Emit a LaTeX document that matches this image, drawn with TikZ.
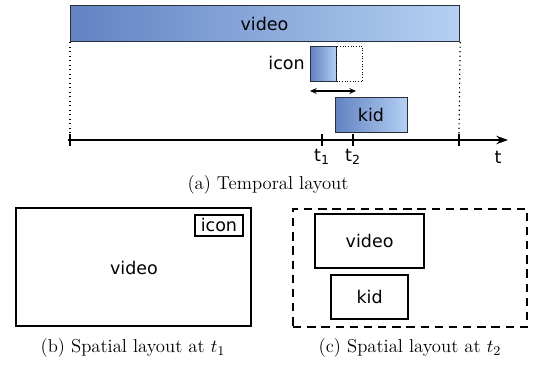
\documentclass[tikz,border=0pt]{standalone}
\usepackage{fontspec}
\newfontfamily\dv{DejaVu Sans}
\usetikzlibrary{arrows.meta}
\definecolor{gl}{RGB}{98,130,194}
\definecolor{gr}{RGB}{180,208,242}
\definecolor{bd}{RGB}{40,48,60}
\tikzset{
  bar/.style={draw=bd, line width=0.7pt, left color=gl, right color=gr, inner sep=0pt},
  lbl/.style={font=\dv\fontsize{10.5}{12}\selectfont, inner sep=0pt},
  captext/.style={font=\fontsize{11.2}{13}\selectfont, inner sep=0pt},
  thickbox/.style={draw, line width=1.3pt, inner sep=0pt},
  tickmark/.style={line width=0.8pt},
}
\begin{document}
\begin{tikzpicture}[x=0.6pt,y=-0.6pt]
\useasboundingbox (0,0) rectangle (536,366);
% temporal layout
\node[bar, minimum width=389*0.6pt, minimum height=36*0.6pt, anchor=north west] (video) at (70,5) {};
\node[lbl] (videotxt) at (264.5,24) {video};
\node[bar, minimum width=26*0.6pt, minimum height=35*0.6pt, anchor=north west] (icon) at (310,46) {};
\node[draw, densely dotted, line width=0.6pt, minimum width=26*0.6pt, minimum height=35*0.6pt, anchor=north west, inner sep=0pt] (iconghost) at (336,46) {};
\node[lbl, anchor=east] (icontxt) at (305,63) {icon};
\coordinate (arrL) at (310,91);
\coordinate (arrR) at (356,91);
\draw[line width=0.7pt, {Stealth[length=4pt,width=3.5pt]}-{Stealth[length=4pt,width=3.5pt]}] (arrL) -- (arrR);
\node[bar, minimum width=72*0.6pt, minimum height=35*0.6pt, anchor=north west] (kid) at (335,97) {};
\node[lbl] (kidtxt) at (371,114.5) {kid};
% axis
\coordinate (a0) at (68,140);
\coordinate (a1) at (508,140);
\draw[line width=1pt, -{Stealth[length=7pt,width=5pt]}] (a0) -- (a1);
\foreach \n/\xx in {k0/70, k1/322, k2/353, k3/459} {
  \coordinate (\n t) at (\xx,134);
  \coordinate (\n b) at (\xx,146);
  \draw[tickmark] (\n t) -- (\n b);
}
\draw[dotted, line width=0.7pt] (video.south west) -- (k0t);
\draw[dotted, line width=0.7pt] (video.south east) -- (k3t);
\node[lbl] (t1) at (322,157) {t\textsubscript{\fontsize{7.5}{8}\selectfont 1}};
\node[lbl] (t2) at (353,157) {t\textsubscript{\fontsize{7.5}{8}\selectfont 2}};
\node[lbl] (tt) at (498,157) {t};
\node[captext] (capa) at (268,185) {(a) Temporal layout};
% spatial b
\node[thickbox, minimum width=235*0.6pt, minimum height=118*0.6pt, anchor=north west] (bbox) at (15,207) {};
\node[lbl] (bvideo) at (134,268) {video};
\node[draw, line width=1.1pt, minimum width=48*0.6pt, minimum height=21*0.6pt, anchor=north west, inner sep=0pt] (bicon) at (194,214) {};
\node[lbl] (bicontxt) at (bicon.center) {icon};
\node[captext] (capb) at (133,348) {(b) Spatial layout at $t_1$};
% spatial c
\node[draw, dash pattern=on 5pt off 3.5pt, line width=1.3pt, minimum width=234*0.6pt, minimum height=118*0.6pt, anchor=north west, inner sep=0pt] (cbox) at (292,208) {};
\node[thickbox, minimum width=109*0.6pt, minimum height=54*0.6pt, anchor=north west] (cvideo) at (314,213) {};
\node[lbl] (cvideotxt) at (cvideo.center) {video};
\node[thickbox, minimum width=77*0.6pt, minimum height=44*0.6pt, anchor=north west] (ckid) at (330,274) {};
\node[lbl] (ckidtxt) at (ckid.center) {kid};
\node[captext] (capc) at (410,348) {(c) Spatial layout at $t_2$};
\end{tikzpicture}
\end{document}
